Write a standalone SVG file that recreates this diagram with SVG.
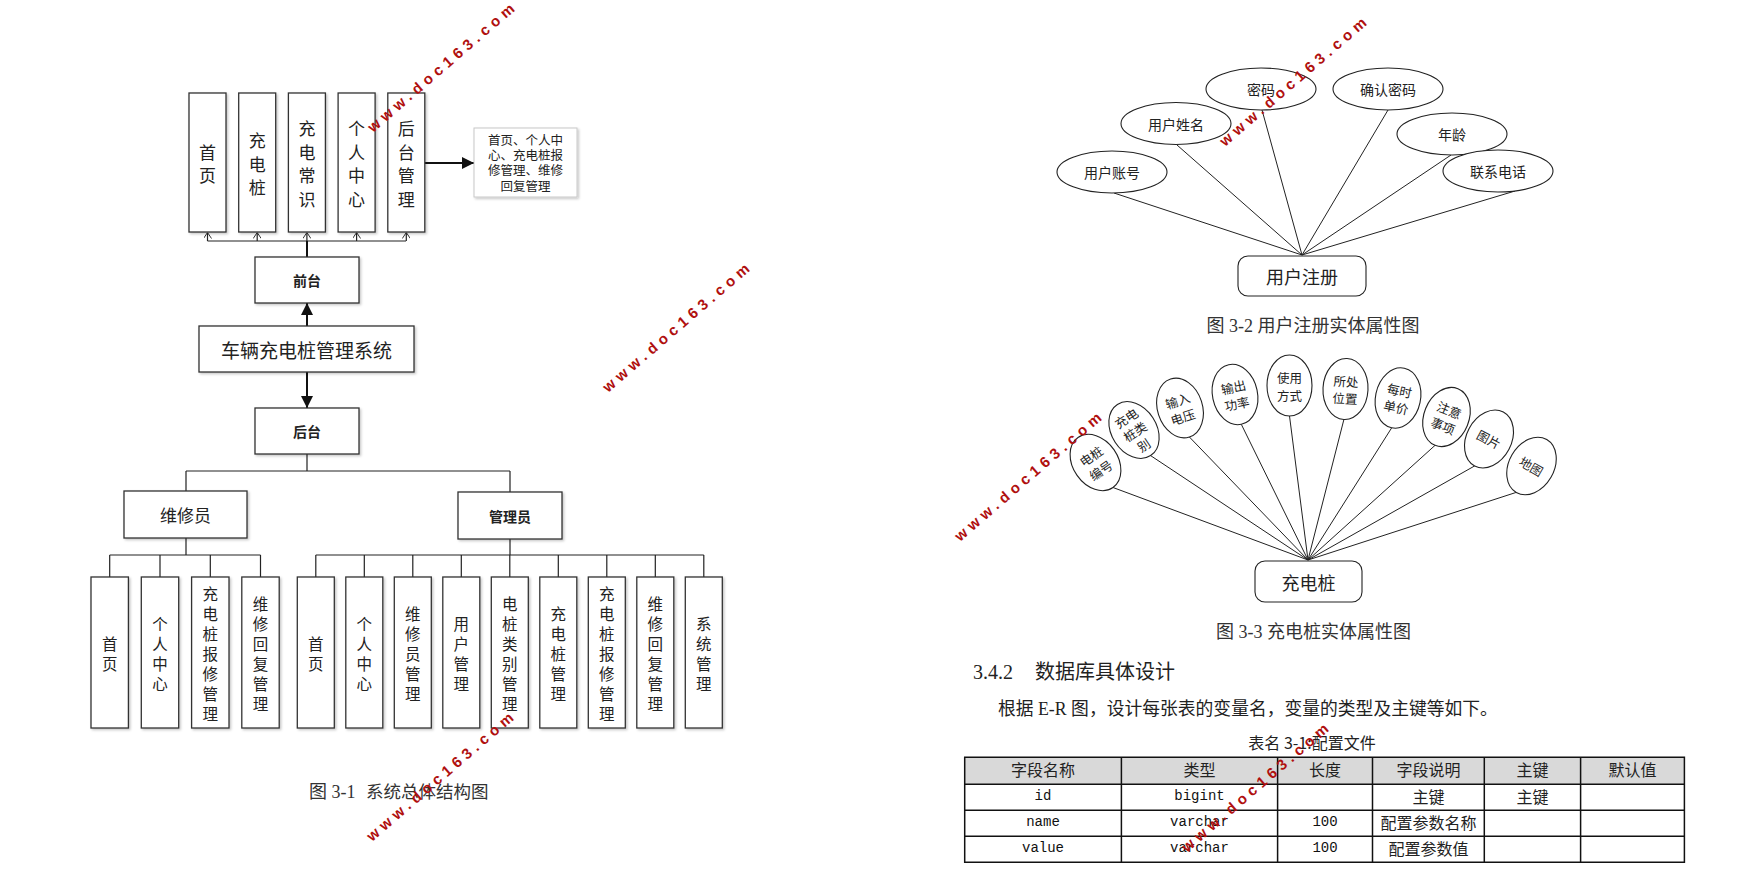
<svg xmlns="http://www.w3.org/2000/svg" width="1737" height="882" viewBox="0 0 1737 882">
<defs>
<style>
.bx{fill:#fff;stroke:#333;stroke-width:1.3;filter:url(#sh)}
.nt{fill:#fff;stroke:#c8c8c8;stroke-width:1;filter:url(#sh)}
.el{fill:#fff;stroke:#222;stroke-width:1.1}
.ln{fill:none;stroke:#222;stroke-width:1.2}
.tk{fill:none;stroke:#111;stroke-width:2}
.er{fill:none;stroke:#222;stroke-width:1}
.cj{font-family:"Noto Sans CJK SC","Noto Sans",sans-serif;fill:#222;text-anchor:middle;dominant-baseline:central}
.nx{font-family:"Liberation Sans","Noto Sans CJK SC",sans-serif;fill:#222;text-anchor:middle;font-size:12.5px}
.t17{font-size:17px}
.t15{font-size:15.5px}
.t13{font-size:12.5px}
.t14{font-size:14px}
.b{font-weight:bold}
.sf{font-family:"Liberation Serif","Noto Sans CJK SC",serif;fill:#333;font-size:18px}
.mo{font-family:"Liberation Mono",monospace;font-size:14px;fill:#111;text-anchor:middle;dominant-baseline:central}
.wm{font-family:"Liberation Sans",Arial,sans-serif;font-weight:bold;font-size:15px;fill:#b0100f}
</style>
<filter id="sh" x="-10%" y="-10%" width="130%" height="130%"><feDropShadow dx="1.5" dy="1.5" stdDeviation="1" flood-color="#000" flood-opacity="0.22"/></filter>
<marker id="ah" viewBox="0 0 12 12" refX="12" refY="6" markerWidth="12" markerHeight="12" markerUnits="userSpaceOnUse" orient="auto"><path d="M0,0 L12,6 L0,12 z" fill="#111"/></marker>
<marker id="oa" viewBox="0 0 6 8" refX="6" refY="4" markerWidth="6" markerHeight="8" markerUnits="userSpaceOnUse" orient="auto"><path d="M0,0 L6,4 L0,8" fill="none" stroke="#333" stroke-width="1"/></marker>
</defs>
<rect width="1737" height="882" fill="#fff"/>

<g id="connectors">
<path class="ln" d="M207.5 241 H406"/>
<path class="ln" d="M207.5 241 V232.5" marker-end="url(#oa)"/>
<path class="ln" d="M257.2 241 V232.5" marker-end="url(#oa)"/>
<path class="ln" d="M306.9 241 V232.5" marker-end="url(#oa)"/>
<path class="ln" d="M356.6 241 V232.5" marker-end="url(#oa)"/>
<path class="ln" d="M406.3 241 V232.5" marker-end="url(#oa)"/>
<path class="tk" d="M307 257 V241"/>
<path class="tk" d="M307 326 V303" marker-end="url(#ah)"/>
<path class="tk" d="M424 163 H474" marker-end="url(#ah)"/>
<path class="tk" d="M307 372 V408" marker-end="url(#ah)"/>
<path class="ln" d="M307 454 V471 M186 471 H510 M186 471 V491 M510 471 V492"/>
<path class="ln" d="M186 538 V555 M109.7 555 H260.5 M109.7 555 V577 M160 555 V577 M210.3 555 V577 M260.5 555 V577"/>
<path class="ln" d="M510 539 V555 M315.8 555 H703.8 M315.8 555 V577 M364.3 555 V577 M412.8 555 V577 M461.3 555 V577 M509.8 555 V577 M558.3 555 V577 M606.8 555 V577 M655.3 555 V577 M703.8 555 V577"/>
<path class="er" d="M1302 255 L1114 193 M1302 255 L1177 145 M1302 255 L1262 110 M1302 255 L1388 110 M1302 255 L1451 155 M1302 255 L1515 191"/>
<path class="er" d="M1308 560 L1113 487.5 M1308 560 L1150.6 455.6 M1308 560 L1189.4 437 M1308 560 L1241.3 424.3 M1308 560 L1289.5 416 M1308 560 L1343.9 419.5 M1308 560 L1391.7 427.8 M1308 560 L1435.1 445.3 M1308 560 L1474.7 465.9 M1308 560 L1516.2 492.4"/>
</g>

<g id="n-home"><rect class="bx" x="189" y="93" width="37" height="139"/><text class="cj t17"><tspan x="207.5" y="150.7">首</tspan><tspan x="207.5" y="174.2">页</tspan></text></g>
<g id="n-pile"><rect class="bx" x="238.7" y="93" width="37" height="139"/><text class="cj t17"><tspan x="257.2" y="139">充</tspan><tspan x="257.2" y="162.5">电</tspan><tspan x="257.2" y="186">桩</tspan></text></g>
<g id="n-know"><rect class="bx" x="288.4" y="93" width="37" height="139"/><text class="cj t17"><tspan x="306.9" y="127.2">充</tspan><tspan x="306.9" y="150.7">电</tspan><tspan x="306.9" y="174.2">常</tspan><tspan x="306.9" y="197.7">识</tspan></text></g>
<g id="n-user"><rect class="bx" x="338.1" y="93" width="37" height="139"/><text class="cj t17"><tspan x="356.6" y="127.2">个</tspan><tspan x="356.6" y="150.7">人</tspan><tspan x="356.6" y="174.2">中</tspan><tspan x="356.6" y="197.7">心</tspan></text></g>
<g id="n-admin"><rect class="bx" x="387.8" y="93" width="37" height="139"/><text class="cj t17"><tspan x="406.3" y="127.2">后</tspan><tspan x="406.3" y="150.7">台</tspan><tspan x="406.3" y="174.2">管</tspan><tspan x="406.3" y="197.7">理</tspan></text></g>
<g id="n-note"><rect class="nt" x="474" y="128" width="103" height="69"/><text class="nx"><tspan x="525.5" y="144.5">首页、个人中</tspan><tspan x="525.5" y="159.8">心、充电桩报</tspan><tspan x="525.5" y="175.1">修管理、维修</tspan><tspan x="525.5" y="190.5">回复管理</tspan></text></g>
<g id="n-front"><rect class="bx" x="255" y="257" width="104" height="46"/><text class="cj t14 b" x="307" y="280">前台</text></g>
<g id="n-system"><rect class="bx" x="199" y="326" width="215" height="46"/><text class="cj" font-size="19" x="306.5" y="349">车辆充电桩管理系统</text></g>
<g id="n-back"><rect class="bx" x="255" y="408" width="104" height="46"/><text class="cj t14 b" x="307" y="431">后台</text></g>
<g id="n-repairer"><rect class="bx" x="124" y="491" width="123" height="47"/><text class="cj" font-size="17" x="185.5" y="514.5">维修员</text></g>
<g id="n-manager"><rect class="bx" x="458" y="492" width="104" height="47"/><text class="cj t14 b" x="510" y="515.5">管理员</text></g>

<g id="n-r-home"><rect class="bx" x="91" y="577" width="37.4" height="151"/><text class="cj t15"><tspan x="109.7" y="642.5">首</tspan><tspan x="109.7" y="662.5">页</tspan></text></g>
<g id="n-r-user"><rect class="bx" x="141.3" y="577" width="37.4" height="151"/><text class="cj t15"><tspan x="160" y="622.5">个</tspan><tspan x="160" y="642.5">人</tspan><tspan x="160" y="662.5">中</tspan><tspan x="160" y="682.5">心</tspan></text></g>
<g id="n-r-report"><rect class="bx" x="191.6" y="577" width="37.4" height="151"/><text class="cj t15"><tspan x="210.3" y="592.5">充</tspan><tspan x="210.3" y="612.5">电</tspan><tspan x="210.3" y="632.5">桩</tspan><tspan x="210.3" y="652.5">报</tspan><tspan x="210.3" y="672.5">修</tspan><tspan x="210.3" y="692.5">管</tspan><tspan x="210.3" y="712.5">理</tspan></text></g>
<g id="n-r-reply"><rect class="bx" x="241.8" y="577" width="37.4" height="151"/><text class="cj t15"><tspan x="260.5" y="602.5">维</tspan><tspan x="260.5" y="622.5">修</tspan><tspan x="260.5" y="642.5">回</tspan><tspan x="260.5" y="662.5">复</tspan><tspan x="260.5" y="682.5">管</tspan><tspan x="260.5" y="702.5">理</tspan></text></g>

<g id="n-m-home"><rect class="bx" x="297.3" y="577" width="37" height="151"/><text class="cj t15"><tspan x="315.8" y="642.5">首</tspan><tspan x="315.8" y="662.5">页</tspan></text></g>
<g id="n-m-user"><rect class="bx" x="345.8" y="577" width="37" height="151"/><text class="cj t15"><tspan x="364.3" y="622.5">个</tspan><tspan x="364.3" y="642.5">人</tspan><tspan x="364.3" y="662.5">中</tspan><tspan x="364.3" y="682.5">心</tspan></text></g>
<g id="n-m-repairer"><rect class="bx" x="394.3" y="577" width="37" height="151"/><text class="cj t15"><tspan x="412.8" y="612.5">维</tspan><tspan x="412.8" y="632.5">修</tspan><tspan x="412.8" y="652.5">员</tspan><tspan x="412.8" y="672.5">管</tspan><tspan x="412.8" y="692.5">理</tspan></text></g>
<g id="n-m-users"><rect class="bx" x="442.8" y="577" width="37" height="151"/><text class="cj t15"><tspan x="461.3" y="622.5">用</tspan><tspan x="461.3" y="642.5">户</tspan><tspan x="461.3" y="662.5">管</tspan><tspan x="461.3" y="682.5">理</tspan></text></g>
<g id="n-m-cat"><rect class="bx" x="491.3" y="577" width="37" height="151"/><text class="cj t15"><tspan x="509.8" y="602.5">电</tspan><tspan x="509.8" y="622.5">桩</tspan><tspan x="509.8" y="642.5">类</tspan><tspan x="509.8" y="662.5">别</tspan><tspan x="509.8" y="682.5">管</tspan><tspan x="509.8" y="702.5">理</tspan></text></g>
<g id="n-m-pile"><rect class="bx" x="539.8" y="577" width="37" height="151"/><text class="cj t15"><tspan x="558.3" y="612.5">充</tspan><tspan x="558.3" y="632.5">电</tspan><tspan x="558.3" y="652.5">桩</tspan><tspan x="558.3" y="672.5">管</tspan><tspan x="558.3" y="692.5">理</tspan></text></g>
<g id="n-m-report"><rect class="bx" x="588.3" y="577" width="37" height="151"/><text class="cj t15"><tspan x="606.8" y="592.5">充</tspan><tspan x="606.8" y="612.5">电</tspan><tspan x="606.8" y="632.5">桩</tspan><tspan x="606.8" y="652.5">报</tspan><tspan x="606.8" y="672.5">修</tspan><tspan x="606.8" y="692.5">管</tspan><tspan x="606.8" y="712.5">理</tspan></text></g>
<g id="n-m-reply"><rect class="bx" x="636.8" y="577" width="37" height="151"/><text class="cj t15"><tspan x="655.3" y="602.5">维</tspan><tspan x="655.3" y="622.5">修</tspan><tspan x="655.3" y="642.5">回</tspan><tspan x="655.3" y="662.5">复</tspan><tspan x="655.3" y="682.5">管</tspan><tspan x="655.3" y="702.5">理</tspan></text></g>
<g id="n-m-sys"><rect class="bx" x="685.3" y="577" width="37" height="151"/><text class="cj t15"><tspan x="703.8" y="622.5">系</tspan><tspan x="703.8" y="642.5">统</tspan><tspan x="703.8" y="662.5">管</tspan><tspan x="703.8" y="682.5">理</tspan></text></g>

<text class="sf" y="798"><tspan x="309">图 3-1</tspan><tspan x="366" font-size="17.5">系统总体结构图</tspan></text>

<g id="er-user">
<g id="a-account"><ellipse class="el" cx="1112" cy="172" rx="55" ry="21"/><text class="cj t14" x="1112" y="172">用户账号</text></g>
<g id="a-name"><ellipse class="el" cx="1176" cy="123.5" rx="55" ry="21"/><text class="cj t14" x="1176" y="123.5">用户姓名</text></g>
<g id="a-pwd"><ellipse class="el" cx="1261" cy="89" rx="55" ry="21"/><text class="cj t14" x="1261" y="89">密码</text></g>
<g id="a-pwd2"><ellipse class="el" cx="1388" cy="89" rx="55" ry="21"/><text class="cj t14" x="1388" y="89">确认密码</text></g>
<g id="a-age"><ellipse class="el" cx="1452" cy="134" rx="55" ry="21"/><text class="cj t14" x="1452" y="134">年龄</text></g>
<g id="a-phone"><ellipse class="el" cx="1498" cy="171" rx="55" ry="21"/><text class="cj t14" x="1498" y="171">联系电话</text></g>
<g id="e-register"><rect class="el" x="1238" y="256" width="128" height="40" rx="10"/><text class="cj" font-size="18" x="1302" y="276">用户注册</text></g>
</g>
<text class="sf" x="1313" y="332" text-anchor="middle">图 3-2 用户注册实体属性图</text>

<g id="er-pile">
<g id="b-no" transform="translate(1095.5,462.5) rotate(-35)"><ellipse class="el" rx="22.5" ry="30.5"/><text class="cj t13"><tspan x="0" y="-8.5">电桩</tspan><tspan x="0" y="8.5">编号</tspan></text></g>
<g id="b-cat" transform="translate(1134,430) rotate(-33)"><ellipse class="el" rx="22.5" ry="30.5"/><text class="cj t13"><tspan x="0" y="-15">充电</tspan><tspan x="0" y="1">桩类</tspan><tspan x="0" y="17">别</tspan></text></g>
<g id="b-vin" transform="translate(1180,408) rotate(-18)"><ellipse class="el" rx="22.5" ry="30.5"/><text class="cj t13"><tspan x="0" y="-8.5">输入</tspan><tspan x="0" y="8.5">电压</tspan></text></g>
<g id="b-pow" transform="translate(1235,394.5) rotate(-12)"><ellipse class="el" rx="22.5" ry="30.5"/><text class="cj t13"><tspan x="0" y="-8.5">输出</tspan><tspan x="0" y="8.5">功率</tspan></text></g>
<g id="b-use" transform="translate(1289.5,385.5)"><ellipse class="el" rx="22.5" ry="30.5"/><text class="cj t13"><tspan x="0" y="-9">使用</tspan><tspan x="0" y="9">方式</tspan></text></g>
<g id="b-loc" transform="translate(1345.5,389) rotate(3)"><ellipse class="el" rx="22.5" ry="30.5"/><text class="cj t13"><tspan x="0" y="-8.5">所处</tspan><tspan x="0" y="8.5">位置</tspan></text></g>
<g id="b-price" transform="translate(1398,398) rotate(12)"><ellipse class="el" rx="22.5" ry="30.5"/><text class="cj t13"><tspan x="0" y="-8.5">每时</tspan><tspan x="0" y="8.5">单价</tspan></text></g>
<g id="b-note" transform="translate(1446.5,417) rotate(22)"><ellipse class="el" rx="22.5" ry="30.5"/><text class="cj t13"><tspan x="0" y="-8.5">注意</tspan><tspan x="0" y="8.5">事项</tspan></text></g>
<g id="b-pic" transform="translate(1489,439) rotate(28)"><ellipse class="el" rx="22.5" ry="30.5"/><text class="cj t13" x="0" y="0">图片</text></g>
<g id="b-map" transform="translate(1531.5,466) rotate(30)"><ellipse class="el" rx="22.5" ry="30.5"/><text class="cj t13" x="0" y="0">地图</text></g>
<g id="e-pile"><rect class="el" x="1255" y="561" width="107" height="41" rx="10"/><text class="cj" font-size="18" x="1308.5" y="581.5">充电桩</text></g>
</g>
<text class="sf" x="1313.5" y="638" text-anchor="middle">图 3-3 充电桩实体属性图</text>

<text x="973" y="679" font-family="'Liberation Serif','Noto Sans CJK SC',serif" font-size="20" fill="#222">3.4.2<tspan x="1035">数据库具体设计</tspan></text>
<text x="998" y="714.5" font-family="'Liberation Serif','Noto Sans CJK SC',serif" font-size="17.8" fill="#222">根据 E-R 图，设计每张表的变量名，变量的类型及主键等如下。</text>
<text class="cj" x="1312" y="742" font-size="16">表名 3-1:配置文件</text>

<g id="table">
<rect x="964.7" y="757.3" width="719.7" height="27" fill="#d9d9d9"/>
<path fill="none" stroke="#111" stroke-width="1.5" d="M964.7 757.3 H1684.4 V862.3 H964.7 Z M964.7 784.3 H1684.4 M964.7 810.3 H1684.4 M964.7 836.3 H1684.4 M1121.4 757.3 V862.3 M1277.6 757.3 V862.3 M1372.5 757.3 V862.3 M1484.3 757.3 V862.3 M1580.6 757.3 V862.3"/>
<g class="cj" font-size="16">
<text x="1043" y="769">字段名称</text><text x="1199.5" y="769">类型</text><text x="1325" y="769">长度</text><text x="1428.4" y="769">字段说明</text><text x="1532.4" y="769">主键</text><text x="1632.5" y="769">默认值</text>
<text x="1428.4" y="796">主键</text><text x="1532.4" y="796">主键</text>
<text x="1428.4" y="822">配置参数名称</text>
<text x="1428.4" y="848">配置参数值</text>
</g>
<g class="mo">
<text x="1043" y="796">id</text><text x="1199.5" y="796">bigint</text>
<text x="1043" y="822">name</text><text x="1199.5" y="822">varchar</text><text x="1325" y="822">100</text>
<text x="1043" y="848">value</text><text x="1199.5" y="848">varchar</text><text x="1325" y="848">100</text>
</g>
</g>

<g id="watermarks">
<text class="wm" transform="translate(373,133) rotate(-40.7)" textLength="188" lengthAdjust="spacing">www.doc163.com</text>
<text class="wm" transform="translate(608,393) rotate(-40.7)" textLength="188" lengthAdjust="spacing">www.doc163.com</text>
<text class="wm" transform="translate(960,542) rotate(-40.7)" textLength="188" lengthAdjust="spacing">www.doc163.com</text>
<text class="wm" transform="translate(1225,147) rotate(-40.7)" textLength="188" lengthAdjust="spacing">www.doc163.com</text>
<text class="wm" transform="translate(372,842) rotate(-40.7)" textLength="188" lengthAdjust="spacing">www.doc163.com</text>
<text class="wm" transform="translate(1187,853) rotate(-40.7)" textLength="188" lengthAdjust="spacing">www.doc163.com</text>
</g>
</svg>
